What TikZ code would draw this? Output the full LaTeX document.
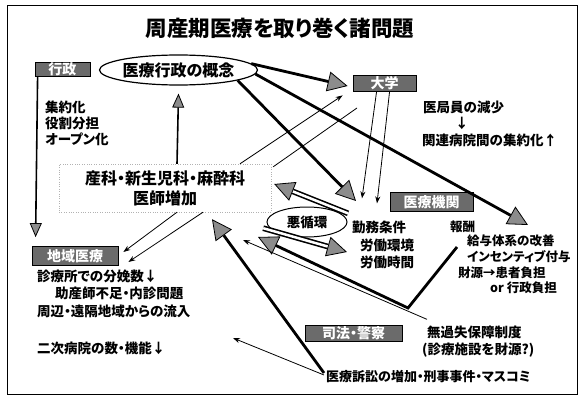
\documentclass[tikz,border=0pt]{standalone}
\usepackage{fontspec}
\setmainfont{Noto Sans CJK JP}[RawFeature=+palt]
\usetikzlibrary{arrows.meta,shapes.geometric,calc}
\begin{document}
\begin{tikzpicture}[x=1pt,y=-1pt,
  lbl/.style={font=\bfseries\fontsize{13.5}{15}\selectfont, anchor=west, inner sep=0pt},
  slbl/.style={lbl, font=\bfseries\fontsize{12.5}{14}\selectfont},
  darkbox/.style={draw=black, fill=black!58, text=white, font=\bfseries\fontsize{14}{16}\selectfont, inner sep=0pt, line width=0.8pt},
  tri/.style={-{Triangle[length=14pt,width=12pt,fill=black!45,line width=0.8pt]}},
  bigtri/.style={-{Triangle[length=20pt,width=20pt,fill=black!45,line width=0.8pt]}},
  heavy/.style={line width=2.8pt},
  hollow/.style={line width=1.6pt, double=white, double distance=2.5pt},
  thinarr/.style={line width=0.8pt,-{Stealth[length=7pt,width=5pt]}},
]
\useasboundingbox (0,0) rectangle (579,396);
\draw[line width=1pt] (7,6) rectangle (577,394);

% title
\node[font=\bfseries\fontsize{21.5}{23}\selectfont] (title) at (280,28) {周産期医療を取り巻く諸問題};

% boxes
\node[darkbox, minimum width=55pt, minimum height=14pt] (gyosei) at (62.5,69.5) {行政};
\node[ellipse, draw, line width=1.2pt, minimum width=157pt, minimum height=30pt, inner sep=0pt, font=\bfseries\fontsize{16}{18}\selectfont] (ell) at (178.5,70) {医療行政の概念};
\node[darkbox, minimum width=63pt, minimum height=16pt] (daigaku) at (384.5,83) {大学};
\node[darkbox, minimum width=83pt, minimum height=19pt] (kikan) at (431.5,202) {医療機関};
\node[darkbox, minimum width=86pt, minimum height=19pt] (chiiki) at (75,256) {地域医療};
\node[darkbox, minimum width=97pt, minimum height=16pt] (shiho) at (353.5,333) {司法・警察};

% left texts
\node[lbl] (t1) at (45,107) {集約化};
\node[lbl] (t2) at (45,123) {役割分担};
\node[lbl] (t3) at (45,139) {オープン化};

% daigaku texts
\node[lbl] (d1) at (423,107) {医局員の減少};
\node[lbl] (d2) at (455,123) {↓};
\node[lbl] (d3) at (422,140) {関連病院間の集約化↑};

% center
\node[draw=gray!60, dotted, fill=white, minimum width=212pt, minimum height=48pt, align=center, inner sep=0pt, font=\bfseries\fontsize{16}{20}\selectfont] (center) at (165,188) {産科・新生児科・麻酔科\\医師増加};

% vicious circle
\node[ellipse, draw, line width=1pt, minimum width=80pt, minimum height=30pt, inner sep=0pt, font=\bfseries\fontsize{13.5}{15}\selectfont] (akujun) at (307,222) {悪循環};

% working conditions
\node[lbl] (k1) at (352,227) {勤務条件};
\node[lbl] (k2) at (360,245) {労働環境};
\node[lbl] (k3) at (360,262) {労働時間};

% kikan texts
\node[slbl] (h1) at (450,227) {報酬};
\node[slbl] (h2) at (467,241) {給与体系の改善};
\node[slbl] (h3) at (467,257) {インセンティブ付与};
\node[slbl] (h4) at (458,273) {財源→患者負担};
\node[slbl] (h5) at (490,288) {or 行政負担};

% chiiki texts
\node[lbl] (c1) at (37,276) {診療所での分娩数↓};
\node[lbl] (c2) at (55,293.5) {助産師不足・内診問題};
\node[lbl] (c3) at (37,311) {周辺・遠隔地域からの流入};
\node[lbl] (c4) at (37,348) {二次病院の数・機能↓};

% shiho texts
\node[lbl] (s1) at (427,332) {無過失保障制度};
\node[lbl] (s2) at (422,350) {(診療施設を財源?)};
\node[lbl, font=\bfseries\fontsize{13}{14}\selectfont] (soshou) at (326,377) {医療訴訟の増加・刑事事件・マスコミ};

% free ends
\coordinate (kyuyotip) at (528,225);
\coordinate (kinmutip) at (356,201);
\coordinate (vbend) at (408,308);
\coordinate (vstart) at (457,247);
\coordinate (vtip) at (258,237);
\coordinate (mutip) at (243,240);
\coordinate (nijitip) at (233,338);
\coordinate (lineend) at (357,108);

% connectors
\draw[tri, line width=1.6pt] ([xshift=3pt]gyosei.south west) -- ([xshift=4pt,yshift=9pt]chiiki.north west);
\draw[tri, line width=1.6pt] ([xshift=12pt]center.north) -- ([yshift=-8pt]ell.south);
\draw[heavy, bigtri] (ell.5) -- ([xshift=-5pt,yshift=-3pt]daigaku.west);
\draw[heavy, bigtri] (ell.-3) -- (kyuyotip);
\draw[heavy, bigtri] (ell.-10) -- (kinmutip);
\draw[thinarr] ([xshift=75pt]center.north) -- ([xshift=-10pt,yshift=-4pt]daigaku.south west);
\draw[line width=0.8pt] ([xshift=2pt,yshift=-3pt]center.north east) -- (lineend);
\draw[thinarr] ([xshift=24pt]daigaku.south west) -- ([xshift=10pt,yshift=22pt]k1.north west);
\draw[thinarr] ([xshift=37pt]daigaku.south west) -- ([xshift=25pt,yshift=17pt]k1.north west);
\draw[hollow, bigtri] ([xshift=-4pt,yshift=7pt]k1.north west) -- ([xshift=3pt,yshift=4pt]center.east);
\draw[hollow, bigtri] ([xshift=-8pt,yshift=-16pt]center.south east) -- ([xshift=-13pt,yshift=-7pt]k2.west);
\draw[heavy, bigtri] (vstart) -- (vbend) -- (vtip);
\draw[heavy, bigtri] ([xshift=-2pt,yshift=4pt]soshou.west) -- ([xshift=47pt,yshift=-7pt]center.south);
\draw[thinarr] ([xshift=-2pt,yshift=2pt]soshou.west) -- (nijitip);
\draw[thinarr] ([yshift=6pt]s1.north west) -- (mutip);
\draw[thinarr] ([xshift=12pt]center.south) -- ([xshift=5pt,yshift=4pt]chiiki.east);
\draw[thinarr] ([xshift=38pt]center.south) -- ([xshift=10pt,yshift=-6pt]chiiki.east);
\end{tikzpicture}
\end{document}
